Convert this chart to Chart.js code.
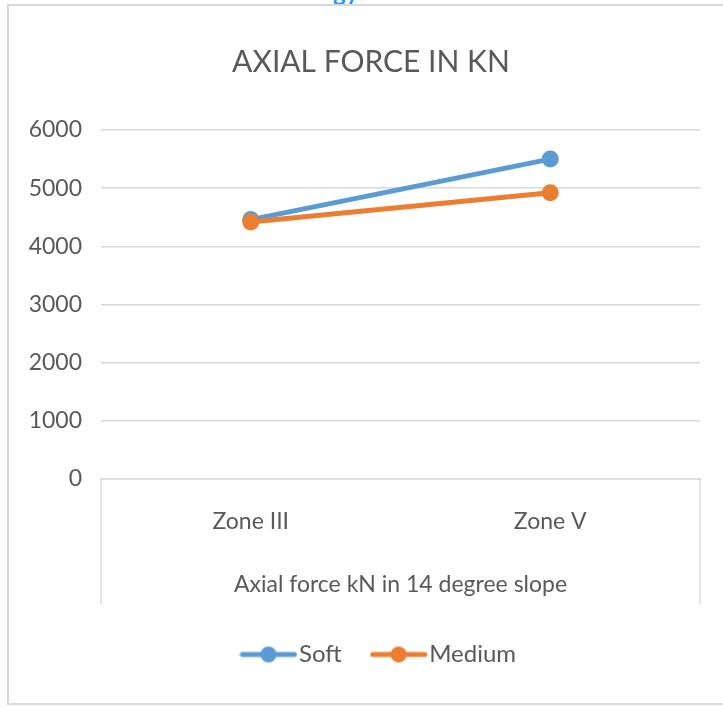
<!DOCTYPE html>
<html>
<head>
<meta charset="utf-8">
<script src="https://cdn.jsdelivr.net/npm/chart.js@4.4.1/dist/chart.umd.min.js"></script>
<style>
html, body { margin:0; padding:0; background:#ffffff; width:723px; height:707px; overflow:hidden; }
#clip { position:absolute; left:333px; top:-20px; font:bold 24px Lato, sans-serif; line-height:24px; color:#1f9be6; }
#frame { position:absolute; left:7px; top:4px; width:760px; height:701px; border:2px solid #d9d9d9; box-sizing:border-box; }
#wrap { position:absolute; left:0; top:0; width:723px; height:707px; }
</style>
</head>
<body>
<div id="clip">gy</div>
<div id="frame"></div>
<div id="wrap"><canvas id="c" width="723" height="707"></canvas></div>
<script>
// ---- data ----
const categories = ['Zone III', 'Zone V'];
const seriesNames = ['Soft', 'Medium'];
const softValues = [4460, 5500];
const mediumValues = [4420, 4920];
const yTickValues = [0, 1000, 2000, 3000, 4000, 5000, 6000];
const yTickLabels = ['0', '1000', '2000', '3000', '4000', '5000', '6000'];
const chartTitle = 'AXIAL FORCE IN KN';
const xAxisTitle = 'Axial force kN in 14 degree slope';

const seriesColors = ['#5b9bd5', '#ed7d31'];
const textColor = '#595959';
const gridColor = '#d9d9d9';
const fontFamily = "Lato, 'Open Sans', sans-serif";

function legendIcon(color) {
  const c = document.createElement('canvas');
  c.width = 58; c.height = 20;
  const g = c.getContext('2d');
  g.strokeStyle = color; g.lineWidth = 5; g.lineCap = 'round';
  g.beginPath(); g.moveTo(3, 10); g.lineTo(55, 10); g.stroke();
  g.fillStyle = color;
  g.beginPath(); g.arc(29, 10, 8, 0, Math.PI * 2); g.fill();
  return c;
}
const legendIcons = seriesColors.map(legendIcon);

const boundaryLines = {
  id: 'boundaryLines',
  afterLayout(chart) {
    // let the y tick labels extend left of the axis box without clipping
    chart.scales.y.left = 0;
    // nudge the legend to sit where the reference places it
    chart.legend.left += 12;
    chart.legend.right += 12;
  },
  afterDraw(chart) {
    const { ctx, chartArea } = chart;
    const xs = chart.scales.x;
    ctx.save();
    ctx.strokeStyle = gridColor;
    ctx.lineWidth = 1.5;
    [chartArea.left, chartArea.right].forEach(x => {
      ctx.beginPath();
      ctx.moveTo(x, chartArea.bottom);
      ctx.lineTo(x, xs.bottom);
      ctx.stroke();
    });
    ctx.restore();
  }
};

const seriesData = [softValues, mediumValues];

new Chart(document.getElementById('c'), {
  type: 'line',
  data: {
    labels: categories,
    datasets: seriesNames.map((name, i) => ({
      label: name,
      data: seriesData[i],
      borderColor: seriesColors[i],
      backgroundColor: seriesColors[i],
      borderWidth: 5,
      pointRadius: 8.5,
      pointHoverRadius: 8.5,
      pointBorderWidth: 0,
      pointBackgroundColor: seriesColors[i],
      tension: 0,
      order: seriesNames.length - i
    }))
  },
  options: {
    responsive: false,
    animation: false,
    devicePixelRatio: 1,
    layout: { padding: { top: 4, left: 42, right: 23, bottom: 30.5 } },
    plugins: {
      tooltip: { enabled: false },
      title: {
        display: true,
        text: chartTitle,
        color: textColor,
        font: { family: fontFamily, size: 30, weight: 'normal' },
        padding: { top: 40, bottom: 50 }
      },
      legend: {
        position: 'bottom',
        labels: {
          usePointStyle: true,
          pointStyleWidth: 37,
          padding: 38.5,
          color: textColor,
          font: { family: fontFamily, size: 24 },
          generateLabels(chart) {
            return chart.data.datasets.map((ds, i) => ({
              text: ds.label,
              datasetIndex: i,
              pointStyle: legendIcons[i],
              fillStyle: seriesColors[i],
              strokeStyle: seriesColors[i],
              lineWidth: 0,
              hidden: false,
              fontColor: textColor
            }));
          }
        }
      }
    },
    scales: {
      x: {
        offset: true,
        grid: { display: false, drawTicks: false },
        border: { display: true, color: gridColor, width: 1.5 },
        ticks: { color: textColor, padding: 29, font: { family: fontFamily, size: 23 } },
        title: {
          display: true,
          text: xAxisTitle,
          color: textColor,
          font: { family: fontFamily, size: 23 },
          padding: { top: 0, bottom: 6 }
        },
        afterFit(scale) { scale.height = 125; }
      },
      y: {
        min: yTickValues[0],
        max: yTickValues[yTickValues.length - 1],
        afterBuildTicks(scale) { scale.ticks = yTickValues.map(v => ({ value: v })); },
        grid: { color: gridColor, lineWidth: 1.5, drawTicks: false },
        border: { display: false },
        ticks: {
          color: textColor, padding: 19, font: { family: fontFamily, size: 23 },
          callback(value) { return yTickLabels[yTickValues.indexOf(value)]; }
        },
        afterFit(scale) { scale.width = 59; }
      }
    }
  },
  plugins: [boundaryLines]
});
</script>
</body>
</html>
